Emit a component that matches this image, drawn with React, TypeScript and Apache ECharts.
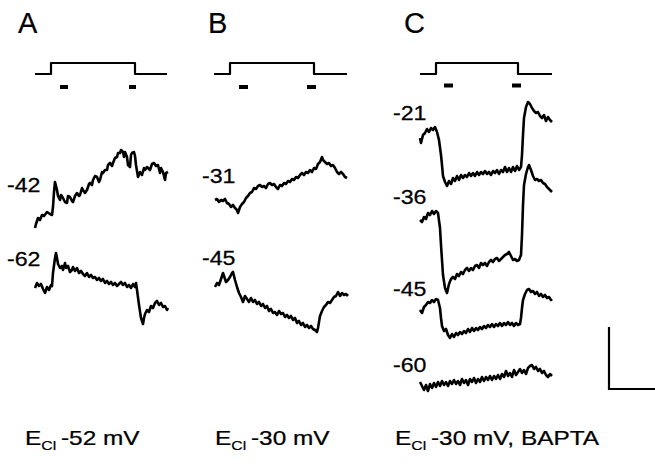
import React, { useEffect, useRef } from "react";
import * as echarts from "echarts";

// ---- data (time in ms from trace start, voltage in mV, stacked for display) ----
const panelLetters = ["A", "B", "C"];
const panelConditions = ["-52 mV", "-30 mV", "-30 mV, BAPTA"];

// step protocol: [start, onset, offset, end] in ms; baseline / step level
const stepTimesA = [0, 160, 1000, 1320];
const stepTimesB = [0, 160, 1000, 1330];
const stepTimesC = [0, 160, 980, 1320];
const stepLevels = [65.2, 67.4];
// sampling windows (short bars under the step)
const windowsA = [[250, 330], [940, 1010]];
const windowsB = [[250, 340], [930, 1020]];
const windowsC = [[240, 330], [920, 1010]];
const windowLevels = [62.6, 62.6, 62.9];

const holdingLabelsA = ["-42", "-62"];
const holdingLabelsB = ["-31", "-45"];
const holdingLabelsC = ["-21", "-36", "-45", "-60"];

const traceA42 = [[0,34.4],[10,35.2],[30,36.4],[50,36.0],[70,37.0],[90,36.8],[120,37.6],[150,37.2],[170,37.0],[180,38.6],[190,41.6],[200,43.6],[220,42.0],[230,40.8],[250,40.0],[260,41.0],[280,40.4],[300,39.6],[320,39.4],[330,40.8],[350,40.6],[370,39.8],[380,39.6],[400,40.8],[420,41.4],[440,40.8],[450,41.0],[470,42.4],[480,42.0],[500,41.4],[520,42.0],[540,43.2],[550,43.4],[570,43.0],[580,44.0],[600,44.8],[620,44.6],[640,43.6],[650,44.0],[670,45.6],[680,45.4],[700,46.0],[720,46.0],[730,47.0],[750,47.4],[770,46.8],[780,47.4],[800,48.4],[820,48.6],[830,49.4],[850,49.4],[860,50.0],[880,49.6],[890,48.6],[900,49.6],[920,48.6],[930,47.0],[950,46.6],[960,49.0],[970,49.4],[990,49.6],[1000,48.8],[1010,47.0],[1030,44.6],[1050,45.6],[1070,45.0],[1090,46.4],[1100,46.0],[1120,46.6],[1150,46.0],[1170,47.2],[1190,47.4],[1210,46.8],[1230,47.0],[1250,45.4],[1260,46.4],[1280,45.6],[1300,44.0],[1310,45.4],[1330,45.6]];
const traceA62 = [[0,22.4],[20,23.4],[40,22.8],[60,23.2],[80,22.2],[100,21.4],[120,22.6],[140,22.0],[160,23.0],[170,22.8],[180,25.4],[200,28.4],[210,29.4],[220,28.4],[230,27.2],[250,26.4],[270,26.8],[280,26.0],[300,27.4],[310,26.4],[330,26.8],[350,25.6],[370,26.0],[380,26.6],[400,25.8],[420,26.4],[440,25.4],[460,25.8],[480,25.2],[500,24.8],[520,25.4],[540,24.6],[560,25.0],[580,24.4],[600,24.6],[620,24.0],[640,24.4],[660,23.8],[680,24.2],[700,23.4],[720,23.8],[740,23.2],[760,23.6],[780,23.0],[800,23.4],[820,22.8],[840,23.2],[860,23.6],[880,23.0],[900,23.4],[920,22.6],[940,23.0],[960,22.4],[980,23.2],[1000,22.6],[1010,23.4],[1020,22.0],[1040,19.0],[1060,16.4],[1080,15.2],[1090,16.4],[1100,17.2],[1120,18.0],[1140,17.6],[1160,18.8],[1180,18.4],[1200,19.4],[1220,19.8],[1240,19.0],[1260,19.4],[1280,18.6],[1300,18.8],[1320,18.0],[1330,18.4]];

const traceB31 = [[10,40.0],[30,40.2],[50,39.6],[70,40.0],[90,39.8],[110,40.2],[130,39.4],[150,39.2],[170,38.6],[190,39.0],[210,38.4],[230,38.0],[240,37.4],[260,38.6],[280,39.2],[300,39.6],[320,40.4],[340,40.8],[360,41.4],[380,41.6],[400,42.4],[420,42.2],[440,42.8],[460,43.0],[480,42.6],[500,42.8],[520,42.4],[540,43.2],[560,43.4],[580,43.0],[600,43.2],[620,42.6],[640,42.2],[660,43.0],[680,42.8],[700,43.4],[720,43.2],[740,43.8],[760,43.6],[780,44.2],[800,44.0],[820,44.6],[840,44.4],[860,45.0],[880,45.4],[900,45.0],[920,45.6],[940,45.4],[960,46.0],[980,45.6],[1000,46.4],[1020,46.2],[1040,47.2],[1060,47.6],[1080,48.6],[1090,48.0],[1110,47.6],[1130,47.2],[1150,47.4],[1170,46.8],[1190,47.0],[1210,46.4],[1230,45.6],[1250,45.2],[1270,45.6],[1290,45.2],[1310,44.6],[1330,44.4]];
const traceB45 = [[10,22.6],[30,23.4],[50,23.0],[70,24.2],[90,25.4],[100,24.8],[120,23.6],[140,24.0],[160,24.6],[180,25.4],[190,25.6],[210,24.0],[230,22.6],[250,21.4],[270,20.6],[290,19.6],[310,20.8],[330,20.2],[350,19.6],[370,20.4],[390,19.6],[410,20.0],[430,19.2],[450,19.6],[470,18.8],[490,19.2],[510,18.4],[530,18.8],[550,17.8],[570,18.2],[590,17.4],[610,17.6],[630,17.0],[650,17.8],[670,17.2],[690,17.4],[710,16.6],[730,17.0],[750,16.4],[770,16.8],[790,16.0],[810,16.4],[830,15.4],[850,15.8],[870,15.0],[890,15.4],[910,14.6],[930,15.0],[950,14.4],[970,14.8],[990,14.2],[1010,14.0],[1030,13.6],[1040,14.4],[1050,15.6],[1060,16.8],[1080,17.8],[1100,18.6],[1120,19.0],[1140,19.6],[1160,19.4],[1180,20.0],[1200,20.6],[1220,20.8],[1240,21.6],[1260,20.8],[1280,21.4],[1300,21.0],[1320,21.2],[1340,20.8]];

const traceC21 = [[0,52.4],[10,51.4],[30,53.0],[50,53.4],[70,54.2],[90,53.6],[110,54.4],[130,54.0],[150,54.6],[170,53.6],[190,52.0],[210,49.0],[220,47.0],[230,44.8],[250,43.6],[270,42.8],[290,43.8],[310,43.2],[330,44.4],[350,43.8],[370,44.8],[390,44.0],[410,45.0],[430,44.4],[450,45.0],[470,44.6],[490,45.4],[510,44.8],[530,45.4],[550,44.8],[570,45.6],[590,45.0],[610,45.6],[630,45.2],[650,45.8],[670,45.2],[690,45.6],[710,45.0],[730,45.8],[750,45.4],[770,46.0],[790,45.2],[810,46.0],[830,45.6],[850,46.6],[870,45.6],[890,46.4],[910,45.6],[930,46.6],[950,45.8],[970,46.8],[990,46.0],[1010,46.6],[1020,49.0],[1030,53.0],[1040,56.4],[1060,58.6],[1080,59.6],[1100,59.2],[1120,58.4],[1140,57.8],[1160,57.4],[1180,57.6],[1200,56.8],[1220,56.4],[1240,57.0],[1260,55.8],[1280,56.6],[1300,56.0],[1320,55.6]];
const traceC36 = [[0,36.0],[20,35.6],[40,36.6],[60,36.2],[80,37.4],[100,37.0],[120,37.8],[140,37.2],[160,37.8],[180,37.4],[200,34.4],[210,31.0],[220,28.0],[230,25.0],[250,22.4],[270,21.4],[290,23.2],[310,24.2],[330,24.6],[350,24.2],[370,25.2],[390,24.8],[410,25.6],[430,25.2],[450,26.0],[470,26.4],[490,25.8],[510,26.4],[530,26.0],[550,26.8],[570,27.0],[590,26.4],[610,27.4],[630,27.0],[650,27.4],[670,26.8],[690,27.6],[710,28.0],[730,27.6],[750,28.2],[770,28.4],[790,27.8],[810,28.2],[830,28.6],[850,29.0],[870,29.2],[890,29.6],[910,28.8],[930,28.0],[950,28.2],[970,27.8],[990,28.0],[1010,29.0],[1020,33.0],[1030,39.0],[1040,43.0],[1060,45.2],[1080,46.6],[1090,47.0],[1110,46.0],[1130,44.8],[1150,44.0],[1170,44.2],[1190,43.8],[1210,44.0],[1230,43.4],[1250,43.2],[1270,42.6],[1290,42.2],[1310,41.8],[1320,41.6]];
const traceC45 = [[0,18.0],[20,17.4],[40,18.6],[60,19.0],[80,19.6],[100,19.4],[120,20.0],[140,19.6],[160,20.2],[180,20.0],[200,18.4],[210,16.4],[220,14.8],[240,13.8],[260,14.2],[280,13.0],[300,12.4],[320,13.2],[340,12.6],[360,13.4],[380,13.0],[400,13.6],[420,13.2],[440,13.8],[460,13.4],[480,14.2],[500,13.6],[520,14.4],[540,13.8],[560,14.4],[580,14.0],[600,14.6],[620,14.2],[640,14.8],[660,14.4],[680,15.0],[700,14.6],[720,15.2],[740,14.6],[760,15.2],[780,14.8],[800,15.4],[820,14.8],[840,15.4],[860,15.0],[880,15.6],[900,15.0],[920,15.4],[940,14.8],[960,15.4],[980,15.0],[1000,15.2],[1010,16.4],[1020,18.4],[1030,20.0],[1050,21.2],[1070,22.0],[1090,22.2],[1110,21.6],[1130,21.8],[1150,21.2],[1170,21.6],[1190,20.8],[1210,21.2],[1230,20.6],[1250,21.0],[1270,20.4],[1290,20.6],[1310,20.0],[1320,20.2]];
const traceC60 = [[0,3.6],[20,2.8],[40,2.0],[60,3.0],[80,1.8],[100,3.2],[120,2.4],[140,3.4],[160,2.6],[180,3.6],[200,2.8],[220,3.8],[240,3.0],[260,3.6],[280,2.8],[300,3.8],[320,3.2],[340,4.0],[360,3.2],[380,3.8],[400,3.0],[420,4.2],[440,3.4],[460,4.0],[480,3.0],[500,4.2],[520,3.6],[540,4.4],[560,3.4],[580,4.2],[600,3.6],[620,4.6],[640,3.8],[660,4.6],[680,4.0],[700,4.8],[720,4.0],[740,4.8],[760,4.2],[780,5.0],[800,4.2],[820,5.2],[840,4.6],[860,5.8],[880,4.8],[900,5.4],[920,4.6],[940,6.0],[960,5.0],[980,5.6],[1000,6.2],[1020,5.4],[1040,6.0],[1060,5.2],[1080,6.4],[1100,6.8],[1120,7.0],[1140,6.2],[1160,6.6],[1180,5.8],[1200,6.2],[1220,5.4],[1240,5.8],[1260,5.0],[1280,4.6],[1300,5.2],[1320,4.8]];

const tracesA = [traceA42, traceA62];
const tracesB = [traceB31, traceB45];
const tracesC = [traceC21, traceC36, traceC45, traceC60];

export default function App() {
  const ref = useRef<HTMLDivElement>(null);
  useEffect(() => {
    if (!ref.current) return;
    const chart = echarts.init(ref.current, null, { renderer: "svg" });
    const panelLefts = [35, 214, 420];
    const stepTimes = [stepTimesA, stepTimesB, stepTimesC];
    const windows = [windowsA, windowsB, windowsC];
    const traces = [tracesA, tracesB, tracesC];

    const grids = panelLefts.map((l) => ({ left: l, top: 55, width: 134, height: 345 }));
    const xAxes = panelLefts.map((_, i) => ({ type: "value", gridIndex: i, min: 0, max: 1340, show: false }));
    const yAxes = panelLefts.map((_, i) => ({ type: "value", gridIndex: i, min: 0, max: 69, show: false }));
    const line = (data: number[][], i: number, w: number) => ({
      type: "line", xAxisIndex: i, yAxisIndex: i, data, showSymbol: false, symbol: "none",
      clip: false, silent: true,
      lineStyle: { color: "#000", width: w, join: "round", cap: "butt" },
    });
    const series: any[] = [];
    panelLefts.forEach((_, i) => {
      const [t0, on, off, end] = stepTimes[i];
      const [b, s] = stepLevels;
      series.push(line([[t0, b], [on, b], [on, s], [off, s], [off, b], [end, b]], i, 2.2));
      windows[i].forEach(([a, z]) => series.push(line([[a, windowLevels[i]], [z, windowLevels[i]]], i, 4)));
      traces[i].forEach((tr) => series.push(line(tr, i, 2.6)));
    });

    const font = "Liberation Sans, Arial, Helvetica, sans-serif";
    const baseStyle = { fill: "#000", stroke: "#000", lineWidth: 0.25, align: "left", verticalAlign: "middle", textAlign: "left", textVerticalAlign: "middle" };
    const numLabel = (text: string, x: number, y: number) => ({
      type: "text", x, y, scaleX: 1.16,
      style: { ...baseStyle, text, font: `20px ${font}` },
    });
    const letterX = [18, 208, 404];
    const labelX = [7, 202, 393];
    const labelY = [[185, 259.5], [176, 258.5], [113.5, 197.5, 289, 365]];
    const holding = [holdingLabelsA, holdingLabelsB, holdingLabelsC];
    const condX = [25, 215, 395];
    const graphic: any[] = [];
    panelLetters.forEach((L, i) => {
      graphic.push({
        type: "text", x: letterX[i], y: 23,
        style: { ...baseStyle, text: L, font: `29px ${font}`, lineWidth: 0.2 },
      });
      holding[i].forEach((h, k) => graphic.push(numLabel(h, labelX[i], labelY[i][k])));
      graphic.push({
        type: "group", x: condX[i], y: 438, scaleX: 1.22,
        children: [
          { type: "text", x: 0, y: 0, style: { ...baseStyle, text: "E", font: `20px ${font}` } },
          { type: "text", x: 13.4, y: 7.5, style: { ...baseStyle, text: "Cl", font: `13px ${font}`, lineWidth: 0.2 } },
          { type: "text", x: 29.5, y: 0, style: { ...baseStyle, text: panelConditions[i], font: `20px ${font}` } },
        ],
      });
    });
    graphic.push({
      type: "polyline",
      shape: { points: [[609, 327], [609, 389], [655, 389]] },
      style: { stroke: "#000", lineWidth: 2.2, fill: null },
    });

    chart.setOption({
      animation: false,
      backgroundColor: "#fff",
      grid: grids,
      xAxis: xAxes,
      yAxis: yAxes,
      series,
      graphic,
    });
    return () => chart.dispose();
  }, []);
  return <div ref={ref} style={{ position: "fixed", left: 0, top: 0, width: 655, height: 466, background: "#fff" }} />;
}
